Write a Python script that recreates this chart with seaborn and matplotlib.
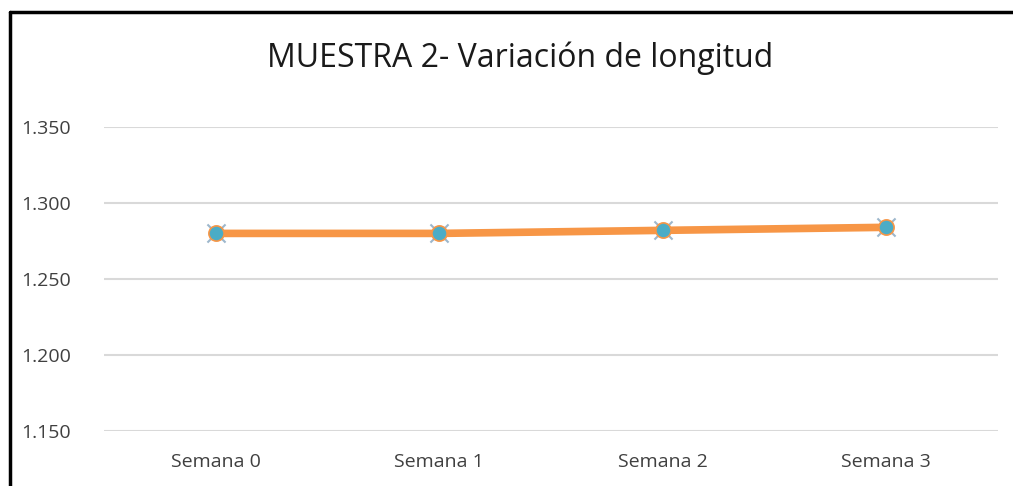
import matplotlib
matplotlib.use("Agg")
import matplotlib.pyplot as plt
import pandas as pd
import seaborn as sns
from matplotlib.lines import Line2D

sns.set_style("white")
plt.rcParams["font.family"] = ["Open Sans", "DejaVu Sans"]

# data
semanas = ["Semana 0", "Semana 1", "Semana 2", "Semana 3"]
longitud = [1.280, 1.280, 1.282, 1.284]
y_ticks = [1.150, 1.200, 1.250, 1.300, 1.350]

df = pd.DataFrame({"semana": semanas, "longitud": longitud})

W, H = 1013, 486
fig = plt.figure(figsize=(W / 100, H / 100), dpi=100)
ax = fig.add_axes([104 / W, (H - 431) / H, (998 - 104) / W, (431 - 127) / H])

sns.lineplot(data=df, x="semana", y="longitud", ax=ax, color="#F79646",
             linewidth=5.5, sort=False, zorder=3)
ax.scatter(df["semana"], df["longitud"], marker="x", s=170, color="#9DB7CC",
           linewidths=1.5, zorder=2)
ax.scatter(df["semana"], df["longitud"], marker="o", s=120, color="#4BACC6",
           edgecolors="#F79646", linewidths=1.2, zorder=4)

ax.set_xlim(-0.5, len(semanas) - 0.5)
ax.set_ylim(min(y_ticks), max(y_ticks))
ax.set_yticks(y_ticks)
ax.set_yticklabels([f"{v:.3f}" for v in y_ticks])
ax.yaxis.grid(True, color="#D9D9D9", linewidth=1.5)
ax.set_axisbelow(True)
for s in ax.spines.values():
    s.set_visible(False)
ax.tick_params(axis="both", length=0, labelsize=14, colors="#404040")
ax.tick_params(axis="y", pad=24)
ax.tick_params(axis="x", pad=16)
ax.set_xlabel("")
ax.set_ylabel("")

fig.text(520 / W, 1 - 58 / H, "MUESTRA 2- Variación de longitud",
         ha="center", va="center", fontsize=23, color="#1a1a1a")

# outer chart border
fig.add_artist(Line2D([9.5 / W, 9.5 / W], [0, 1 - 12 / H], color="black",
                      linewidth=2.5, transform=fig.transFigure))
fig.add_artist(Line2D([9.5 / W, 1], [1 - 12 / H, 1 - 12 / H], color="black",
                      linewidth=2.5, transform=fig.transFigure))

fig.savefig("out.png", dpi=100, facecolor="white")
